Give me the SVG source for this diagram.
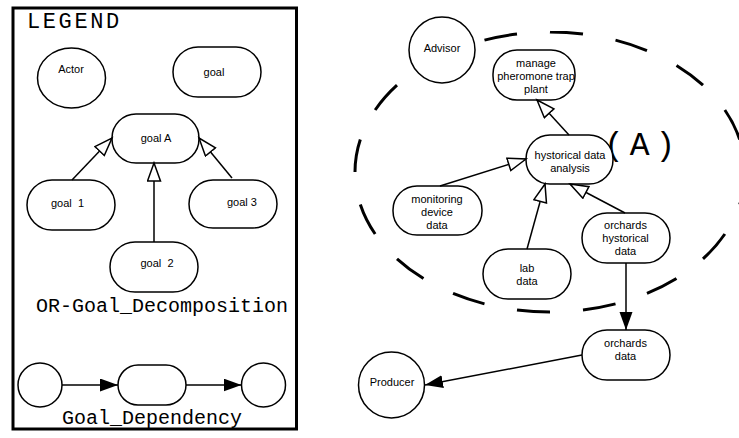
<svg xmlns="http://www.w3.org/2000/svg" width="739" height="438" viewBox="0 0 739 438">
  <style>
    .node { fill: #fff; stroke: #000; stroke-width: 1.5; }
    .lbl { font-family: "Liberation Sans", Arial, sans-serif; font-size: 11px; fill: #000; text-anchor: middle; }
    .mono { font-family: "Liberation Mono", "Courier New", monospace; fill: #000; }
    .edge { fill: none; stroke: #000; stroke-width: 1.5; }
    .or { marker-end: url(#hollow); }
    .dep { marker-end: url(#solid); }
  </style>
  <defs>
    <marker id="hollow" markerUnits="userSpaceOnUse" markerWidth="22" markerHeight="17" refX="19" refY="7.5" orient="auto" viewBox="0 0 22 17">
      <path d="M1,1 L19,7.5 L1,14 Z" fill="#fff" stroke="#000" stroke-width="1.5"/>
    </marker>
    <marker id="solid" markerUnits="userSpaceOnUse" markerWidth="20" markerHeight="15" refX="18" refY="6.5" orient="auto" viewBox="0 0 20 15">
      <path d="M0,0 L18,6.5 L0,13 Z" fill="#000"/>
    </marker>
  </defs>

  <!-- legend frame -->
  <g id="legend">
    <rect x="13" y="8" width="283.5" height="421" fill="none" stroke="#000" stroke-width="3"/>
    <text class="mono" x="27" y="28" font-size="22" letter-spacing="2.6">LEGEND</text>
    <text class="mono" x="36" y="312" font-size="20">OR-Goal_Decomposition</text>
    <text class="mono" x="62" y="424" font-size="20">Goal_Dependency</text>
  </g>

  <!-- legend nodes -->
  <g id="legend-actor">
    <ellipse class="node" cx="71.5" cy="78" rx="34" ry="30"/>
    <text class="lbl" x="71" y="73">Actor</text>
  </g>
  <g id="legend-goal">
    <rect class="node" x="173" y="47" width="88" height="50" rx="25" ry="25"/>
    <text class="lbl" x="214" y="76">goal</text>
  </g>
  <g id="legend-goalA">
    <rect class="node" x="112" y="114" width="87" height="49" rx="24" ry="24"/>
    <text class="lbl" x="156" y="142">goal A</text>
  </g>
  <g id="legend-goal1">
    <rect class="node" x="27" y="180" width="88" height="50" rx="25" ry="25"/>
    <text class="lbl" x="67.5" y="207" xml:space="preserve">goal  1</text>
  </g>
  <g id="legend-goal3">
    <rect class="node" x="189" y="180" width="88" height="48" rx="24" ry="24"/>
    <text class="lbl" x="242" y="206">goal 3</text>
  </g>
  <g id="legend-goal2">
    <rect class="node" x="110" y="242" width="88" height="50" rx="25" ry="25"/>
    <text class="lbl" x="157" y="267" xml:space="preserve">goal  2</text>
  </g>
  <g id="legend-dep-from">
    <circle class="node" cx="40" cy="385" r="22"/>
  </g>
  <g id="legend-dep-goal">
    <rect class="node" x="118" y="365" width="68" height="40" rx="20" ry="20"/>
  </g>
  <g id="legend-dep-to">
    <circle class="node" cx="263.5" cy="385" r="22"/>
  </g>

  <!-- dashed boundary of the Advisor actor -->
  <g id="advisor-boundary">
    <path d="M745,172 A195,140 0 1 1 355,172 A195,140 0 1 1 745,172 Z" fill="none" stroke="#000" stroke-width="3" pathLength="1600" stroke-dasharray="50 50"/>
    <text class="mono" x="604" y="155" font-size="33" letter-spacing="6">(A)</text>
  </g>

  <!-- model nodes -->
  <g id="advisor">
    <circle class="node" cx="442" cy="50" r="33"/>
    <text class="lbl" x="442" y="52">Advisor</text>
  </g>
  <g id="manage-trap">
    <rect class="node" x="493" y="50" width="82" height="50" rx="24" ry="24"/>
    <text class="lbl" x="536" y="67">manage</text>
    <text class="lbl" x="536" y="80">pheromone trap</text>
    <text class="lbl" x="536" y="93">plant</text>
  </g>
  <g id="historical-analysis">
    <rect class="node" x="526" y="135" width="87" height="49" rx="24" ry="24"/>
    <text class="lbl" x="570" y="159">hystorical data</text>
    <text class="lbl" x="570" y="172">analysis</text>
  </g>
  <g id="monitoring-data">
    <rect class="node" x="393" y="186" width="89" height="49" rx="24" ry="24"/>
    <text class="lbl" x="437" y="203">monitoring</text>
    <text class="lbl" x="437" y="216">device</text>
    <text class="lbl" x="437" y="229">data</text>
  </g>
  <g id="lab-data">
    <rect class="node" x="483" y="249" width="88" height="50" rx="25" ry="25"/>
    <text class="lbl" x="527" y="272">lab</text>
    <text class="lbl" x="527" y="285">data</text>
  </g>
  <g id="orchards-historical">
    <rect class="node" x="582" y="213" width="88" height="50" rx="25" ry="25"/>
    <text class="lbl" x="625.5" y="229">orchards</text>
    <text class="lbl" x="625.5" y="242">hystorical</text>
    <text class="lbl" x="625.5" y="255">data</text>
  </g>
  <g id="orchards-data">
    <rect class="node" x="582" y="330" width="88" height="50" rx="25" ry="25"/>
    <text class="lbl" x="625.5" y="347">orchards</text>
    <text class="lbl" x="625.5" y="360">data</text>
  </g>
  <g id="producer">
    <circle class="node" cx="391.5" cy="385" r="33"/>
    <text class="lbl" x="392" y="386">Producer</text>
  </g>

  <!-- connectors -->
  <g id="connectors">
    <line class="edge or" x1="72" y1="180" x2="112" y2="138"/>
    <line class="edge or" x1="232" y1="178" x2="199" y2="138"/>
    <line class="edge or" x1="154" y1="242" x2="154" y2="163"/>
    <line class="edge dep" x1="62" y1="385" x2="118" y2="385"/>
    <line class="edge dep" x1="186" y1="385" x2="241.5" y2="385"/>

    <line class="edge or" x1="569" y1="135" x2="537" y2="100"/>
    <line class="edge or" x1="440" y1="186" x2="526" y2="159"/>
    <line class="edge or" x1="527" y1="249" x2="545" y2="184"/>
    <line class="edge or" x1="625" y1="213" x2="570" y2="184"/>
    <line class="edge dep" x1="626" y1="263" x2="626" y2="330"/>
    <line class="edge dep" x1="582" y1="355" x2="425" y2="385"/>
  </g>
</svg>
